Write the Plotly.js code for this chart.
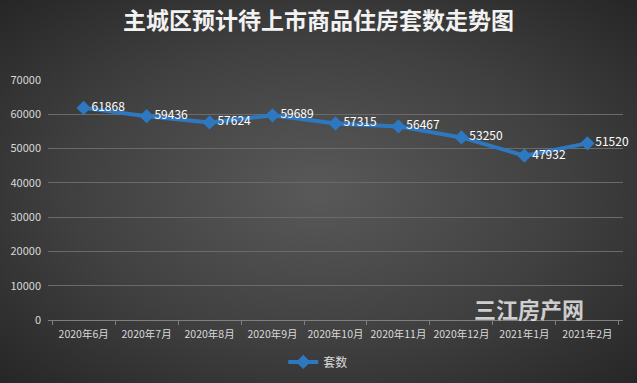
<!DOCTYPE html>
<html>
<head>
<meta charset="utf-8">
<script src="https://cdn.plot.ly/plotly-3.0.1.min.js"></script>
<style>
html,body{margin:0;padding:0;}
body{width:637px;height:383px;overflow:hidden;}
#chart{width:637px;height:383px;
background:radial-gradient(ellipse at 50% 50%, #595959 0%, #404040 55%, #262626 100%);}
</style>
</head>
<body>
<div id="chart"></div>
<script>
const categories = ["2020年6月","2020年7月","2020年8月","2020年9月","2020年10月","2020年11月","2020年12月","2021年1月","2021年2月"];
const units = [61868,59436,57624,59689,57315,56467,53250,47932,51520];
const seriesName = "套数";
const yTicks = [0,10000,20000,30000,40000,50000,60000,70000];

const font = "'Noto Sans CJK SC','Noto Sans',sans-serif";
const trace = {
  x: categories, y: units, name: seriesName, type: "scatter", mode: "lines+markers+text",
  line: {color: "#2e78c2", width: 4},
  marker: {symbol: "diamond", size: 11, color: "#2e78c2"},
  text: units.map(String), textposition: "middle right",
  textfont: {color: "#ffffff", size: 12, family: font},
  cliponaxis: false
};
const layout = {
  width: 637, height: 383,
  paper_bgcolor: "rgba(0,0,0,0)", plot_bgcolor: "rgba(0,0,0,0)",
  margin: {l: 48, r: 14, t: 80, b: 63, autoexpand: false},
  title: {text: "主城区预计待上市商品住房套数走势图", x: 0.5, xanchor: "center", y: 0.945, yanchor: "middle",
    font: {family: font, size: 23, color: "#f2f2f2", weight: "bold"}},
  xaxis: {type: "category", automargin: false, tickangle: 0, tickfont: {family: font, size: 10.5, color: "#d9d9d9"},
    showgrid: false, showline: true, linecolor: "#7f7f7f", linewidth: 1,
    ticks: "outside", tickson: "boundaries", ticklen: 4, tickcolor: "#7f7f7f", fixedrange: true,
    ticklabelstandoff: 4},
  yaxis: {range: [0, 70000], automargin: false, tickvals: yTicks, ticktext: yTicks.map(String),
    tickfont: {family: font, size: 11, color: "#d9d9d9"},
    showgrid: true, gridcolor: "#6a6a6a", gridwidth: 1, zeroline: false, showline: false, ticks: "",
    ticklabelstandoff: 6},
  showlegend: true,
  legend: {orientation: "h", x: 0.47, xanchor: "center", yref: "container", y: 0.055, yanchor: "middle",
    font: {family: font, size: 12, color: "#d9d9d9"}, bgcolor: "rgba(0,0,0,0)"},
  annotations: [{text: "<b>三江房产网</b>", xref: "paper", yref: "paper", x: 0.836, y: 0.048, xanchor: "center", yanchor: "middle",
    showarrow: false, font: {family: font, size: 22, color: "rgba(255,255,255,0.75)"}}]
};
Plotly.newPlot("chart", [trace], layout, {displayModeBar: false, staticPlot: true});
</script>
</body>
</html>
